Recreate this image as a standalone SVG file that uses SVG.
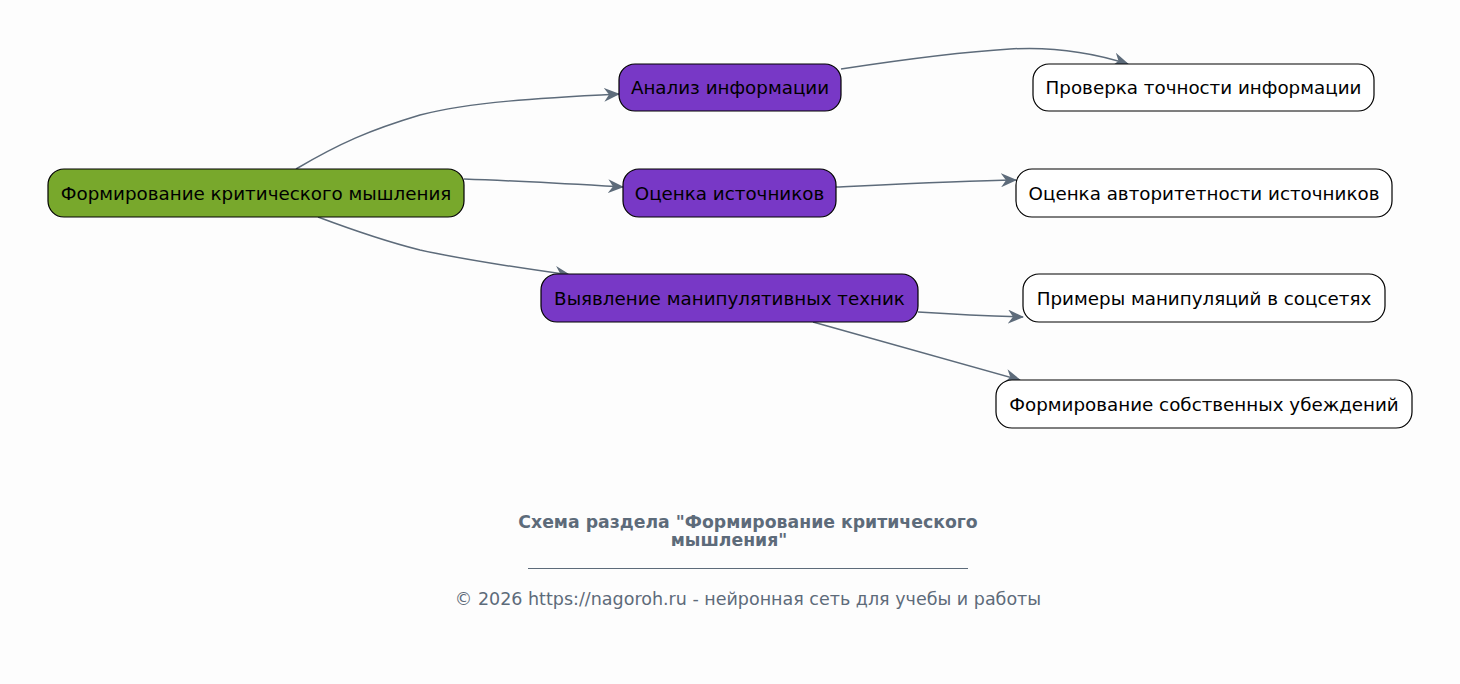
<svg xmlns="http://www.w3.org/2000/svg" width="1460" height="684" viewBox="0 0 1460 684">
<defs>
<marker id="arr" viewBox="0 0 16 14" refX="15" refY="7" markerWidth="16" markerHeight="14" markerUnits="userSpaceOnUse" orient="auto">
<path d="M0,0 L16,7 L0,14 L5,7 z" fill="#5d6b7a"/>
</marker>
<style>
.node rect{stroke:#000;stroke-width:1.2}
.root rect{fill:#78a82c}
.mid rect{fill:#7838c6}
.leaf rect{fill:#fff}
.node text{font-family:"DejaVu Sans",sans-serif;font-size:18.3px;fill:#000;text-anchor:middle;dominant-baseline:central}
.edges path{fill:none;stroke:#5d6b7a;stroke-width:1.5;marker-end:url(#arr)}
.title{font-family:"DejaVu Sans",sans-serif;font-size:17.3px;font-weight:bold;fill:#5d6b7a;text-anchor:middle}
.foot{font-family:"DejaVu Sans",sans-serif;font-size:17.5px;fill:#5d6b7a;text-anchor:middle}
</style>
</defs>
<rect width="1460" height="684" fill="#fdfdfd"/>
<g class="edges">
<path d="M296,169 C340,143 370,130 420,115 C470,102 540,98 619,94"/>
<path d="M464,179 C520,181 570,184 623,187"/>
<path d="M318,217 C350,229 380,240 420,250 C470,261 520,268 570,275"/>
<path d="M841,69 C900,60 960,52 1010,49 C1060,46 1100,55 1128,64"/>
<path d="M836,187 C900,184 960,181 1016,180"/>
<path d="M918,312 C950,314 990,316 1023,317"/>
<path d="M813,322 C880,341 950,360 1020,380"/>
</g>
<g id="n-root" class="node root"><rect x="48" y="169" width="416" height="48" rx="16"/><text x="256" y="193">Формирование критического мышления</text></g>
<g id="n-analiz" class="node mid"><rect x="619" y="64" width="222" height="47" rx="16"/><text x="730" y="87.5">Анализ информации</text></g>
<g id="n-ocenka" class="node mid"><rect x="623" y="169" width="213" height="48" rx="16"/><text x="729.5" y="193">Оценка источников</text></g>
<g id="n-vyyav" class="node mid"><rect x="541" y="274" width="377" height="48" rx="16"/><text x="729.5" y="298">Выявление манипулятивных техник</text></g>
<g id="n-prov" class="node leaf"><rect x="1033" y="64" width="341" height="47" rx="16"/><text x="1203.5" y="87.5">Проверка точности информации</text></g>
<g id="n-avt" class="node leaf"><rect x="1016" y="169" width="376" height="48" rx="16"/><text x="1204" y="193">Оценка авторитетности источников</text></g>
<g id="n-prim" class="node leaf"><rect x="1023" y="274" width="362" height="48" rx="16"/><text x="1204" y="298">Примеры манипуляций в соцсетях</text></g>
<g id="n-form" class="node leaf"><rect x="996" y="380" width="416" height="48" rx="16"/><text x="1204" y="404">Формирование собственных убеждений</text></g>
<g id="caption">
<text class="title" x="748" y="528">Схема раздела "Формирование критического</text>
<text class="title" x="729" y="546">мышления"</text>
<line x1="528" y1="568.5" x2="968" y2="568.5" stroke="#5d6b7a" stroke-width="1.2"/>
<text class="foot" x="748" y="605">© 2026 https://nagoroh.ru - нейронная сеть для учебы и работы</text>
</g>
</svg>
